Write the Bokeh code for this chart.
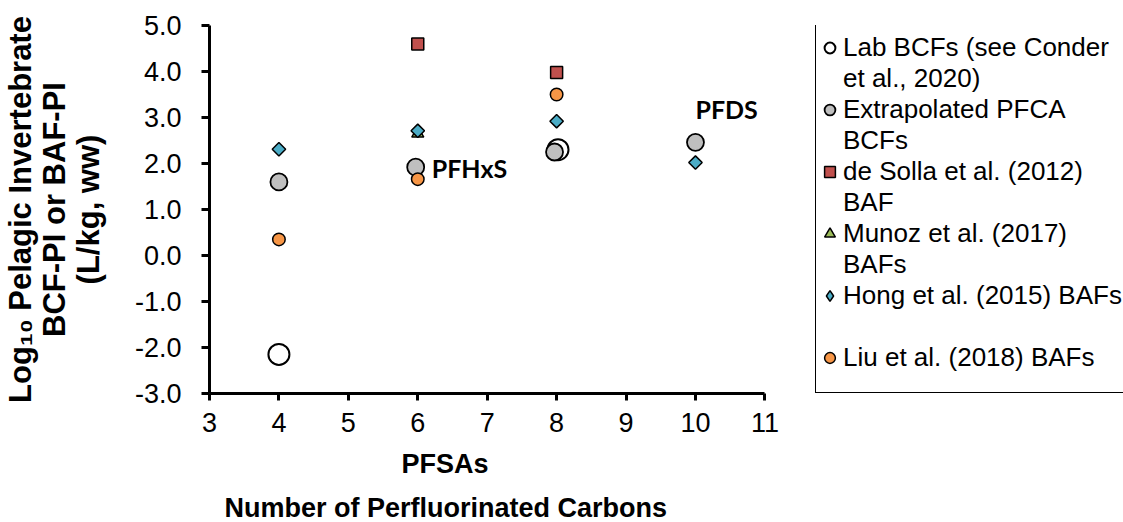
import math
from bokeh.plotting import figure
from bokeh.models import (Range1d, FixedTicker, PrintfTickFormatter, Label, Legend,
                          LegendItem, Title)
from bokeh.embed import file_html
from bokeh.resources import INLINE

# ---------------- data ----------------
x_ticks = [3, 4, 5, 6, 7, 8, 9, 10, 11]
y_ticks = [-3.0, -2.0, -1.0, 0.0, 1.0, 2.0, 3.0, 4.0, 5.0]

lab_x = [4, 8.02]
lab_y = [-2.15, 2.3]

extrap_x = [4, 5.97, 7.97, 10]
extrap_y = [1.6, 1.92, 2.25, 2.46]

desolla_x = [6, 8]
desolla_y = [4.6, 3.98]

munoz_x = [6]
munoz_y = [2.65]

hong_x = [4, 6, 8, 10]
hong_y = [2.31, 2.71, 2.92, 2.02]

liu_x = [4, 6, 8]
liu_y = [0.35, 1.66, 3.5]

series_names = [
    "Lab BCFs (see Conder", "et al., 2020)",
    "Extrapolated PFCA", "BCFs",
    "de Solla et al. (2012)", "BAF",
    "Munoz et al. (2017)", "BAFs",
    "Hong et al. (2015) BAFs", " ",
    "Liu et al. (2018) BAFs",
]

compound_labels = ["PFHxS", "PFDS"]
compound_label_x = [6.2, 10.0]
compound_label_y = [1.91, 3.19]

x_title_lines = ["PFSAs", "Number of Perfluorinated Carbons"]
y_title = "Log\u2081\u2080 Pelagic Invertebrate\nBCF-PI or BAF-PI\n(L/kg, ww)"

# ---------------- layout ----------------
FONT = "Liberation Sans"
W, H = 1123, 522
LEFT, TOP, BOTTOM = 208, 25, 129          # borders around the plotting frame
AXIS_W = 556                              # pixel width of the 3..11 axis
X0, X1 = x_ticks[0], x_ticks[-1]
px_per_unit = AXIS_W / (X1 - X0)
x_end = X1 + (W - LEFT - AXIS_W) / px_per_unit   # frame extends to the right edge

p = figure(width=W, height=H, x_range=Range1d(X0, x_end),
           y_range=Range1d(y_ticks[0], y_ticks[-1]),
           output_backend="svg", toolbar_location=None,
           min_border_left=LEFT, min_border_right=0, min_border_top=TOP,
           min_border_bottom=BOTTOM)
p.xgrid.visible = False
p.ygrid.visible = False
p.outline_line_color = None
p.background_fill_color = "white"
p.border_fill_color = "white"

for ax in (p.xaxis[0], p.yaxis[0]):
    ax.axis_line_width = 3
    ax.axis_line_color = "black"
    ax.major_tick_line_width = 3
    ax.major_tick_line_color = "black"
    ax.major_tick_in = 0
    ax.minor_tick_line_color = None
    ax.major_label_text_font = FONT
    ax.major_label_text_font_size = "27px"
    ax.major_label_text_color = "black"

p.xaxis.ticker = FixedTicker(ticks=x_ticks)
p.xaxis.bounds = (X0, X1)
p.yaxis.ticker = FixedTicker(ticks=y_ticks)
p.yaxis.formatter = PrintfTickFormatter(format="%.1f")
p.xaxis.major_tick_out = 7
p.yaxis.major_tick_out = 8
p.xaxis.major_label_standoff = 12
p.yaxis.major_label_standoff = 20

# y-axis title (three lines)
p.yaxis.axis_label = y_title
p.yaxis.axis_label_text_font = FONT
p.yaxis.axis_label_text_font_style = "bold"
p.yaxis.axis_label_text_font_size = "31px"
p.yaxis.axis_label_text_color = "black"
p.yaxis.axis_label_text_line_height = 0.97
p.yaxis.axis_label_standoff = 26

# x-axis title: two left-aligned titles below the axis
x_title_offsets = [192, 15]
x_title_standoffs = [24, 0]
for txt, off, so in zip(x_title_lines, x_title_offsets, x_title_standoffs):
    p.add_layout(Title(text=txt, align="left", offset=off, standoff=so,
                       text_font=FONT, text_font_style="bold",
                       text_font_size="27px", text_color="black"), "below")

# ---------------- markers ----------------
r_lab = p.scatter(lab_x, lab_y, marker="circle", size=21, fill_color="white",
                  line_color="black", line_width=2)
r_ext = p.scatter(extrap_x, extrap_y, marker="circle", size=17, fill_color="#BFBFBF",
                  line_color="black", line_width=1.8)
r_des = p.scatter(desolla_x, desolla_y, marker="square", size=12, fill_color="#C0504D",
                  line_color="black", line_width=1.5)
r_mun = p.scatter(munoz_x, munoz_y, marker="triangle", size=12, fill_color="#9BBB59",
                  line_color="black", line_width=1.5)
# diamond key for the legend (hidden under the rotated squares in the plot)
r_hon_key = p.scatter(hong_x, hong_y, marker="diamond", size=9, fill_color="#4BACC6",
                      line_color="black", line_width=1.5)
r_hon = p.scatter(hong_x, hong_y, marker="square", angle=math.pi / 4, size=9.5,
                  fill_color="#4BACC6", line_color="black", line_width=1.5)
r_liu = p.scatter(liu_x, liu_y, marker="circle", size=12.5, fill_color="#F79646",
                  line_color="black", line_width=1.5)
# legend-only spacer (no data)
r_blank = p.scatter(x=[], y=[], marker="circle", size=1, fill_alpha=0, line_alpha=0)

# ---------------- compound labels ----------------
for txt, lx, ly in zip(compound_labels, compound_label_x, compound_label_y):
    p.add_layout(Label(x=lx, y=ly, text=txt, text_font="Lato", text_font_style="bold",
                       text_font_size="25px", text_color="black",
                       text_align="left", text_baseline="middle"))

# ---------------- legend ----------------
# outer frame of the legend box
box = Legend(items=[LegendItem(label=" ", renderers=[r_blank])], location=(606, 0),
             padding=1, spacing=0, margin=0, glyph_width=27, glyph_height=27,
             label_width=330, label_height=366, label_standoff=0,
             label_text_font_size="2px",
             border_line_color="black", border_line_alpha=1, border_line_width=1.5,
             background_fill_color="white", background_fill_alpha=1)
p.add_layout(box)

renderer_for = [r_lab, r_blank, r_ext, r_blank, r_des, r_blank, r_mun, r_blank,
                r_hon_key, r_blank, r_liu]
items = [LegendItem(label=name, renderers=[r]) for name, r in zip(series_names, renderer_for)]
legend = Legend(items=items, location=(606, 19), orientation="vertical",
                padding=1, spacing=0, margin=0, glyph_width=27, glyph_height=27,
                label_height=31, label_standoff=0, label_text_font=FONT,
                label_text_font_size="26px", label_text_color="black",
                border_line_alpha=0, background_fill_alpha=0)
p.add_layout(legend)

open("out.html", "w").write(file_html(p, INLINE))
